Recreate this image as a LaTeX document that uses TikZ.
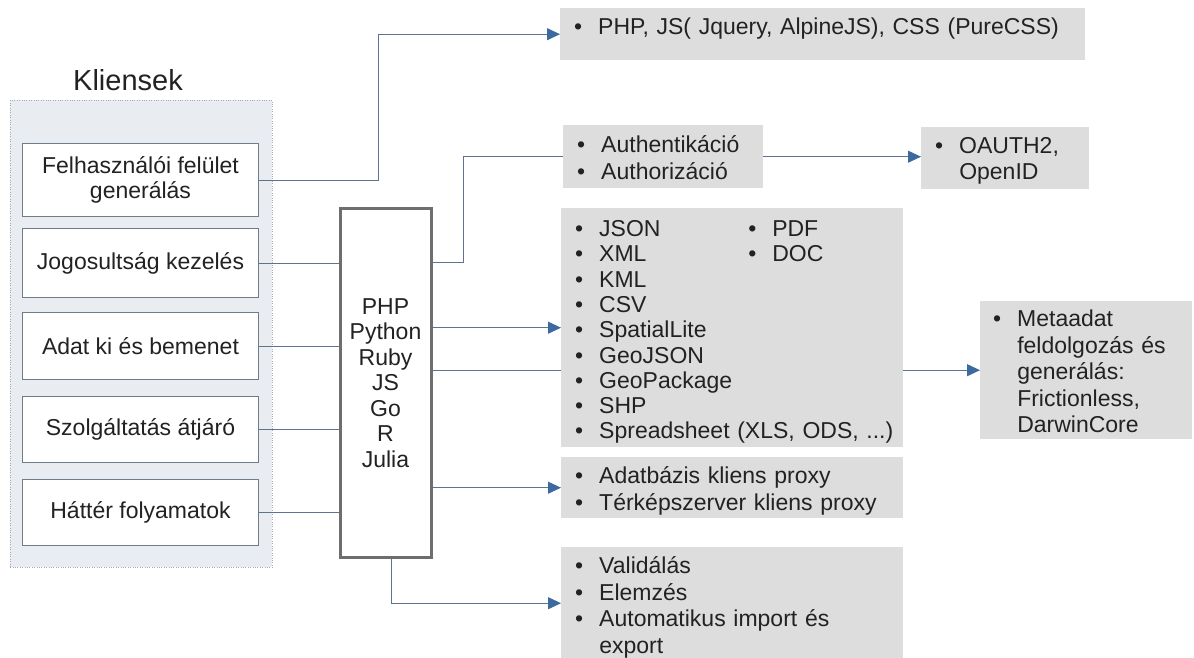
\documentclass[tikz,border=0pt]{standalone}
\usepackage{fontspec}
\setmainfont{Liberation Sans}
\usetikzlibrary{arrows.meta}
\definecolor{txt}{HTML}{222222}
\definecolor{contfill}{HTML}{E9EDF2}
\definecolor{contdraw}{HTML}{A3ACB6}
\definecolor{boxdraw}{HTML}{6F7C8A}
\definecolor{langdraw}{HTML}{6E6E6E}
\definecolor{graybox}{HTML}{DDDDDD}
\definecolor{conncol}{HTML}{5E7391}
\definecolor{tipcol}{HTML}{3D6A9E}
\tikzset{
  client/.style={draw=boxdraw, line width=1pt, fill=white, anchor=north west,
    minimum width=236pt, minimum height=#1, align=center, inner sep=0pt,
    font=\fontsize{23}{25.5}\selectfont, text=txt},
  gbox/.style={fill=graybox, anchor=north west, inner xsep=14pt, inner ysep=0pt, align=left,
    font=\fontsize{23}{26.5}\selectfont, text=txt},
  conn/.style={draw=conncol, line width=1pt},
  arr/.style={conn, -{Triangle[length=13pt,width=12pt,fill=tipcol,color=tipcol]}},
}
\newcommand{\bl}{\textbullet}
\newcommand{\blist}[2][-4pt]{\raisebox{#1}[\height][\depth]{\begin{tabular}{@{}l@{\hspace{16pt}}l@{}}#2\end{tabular}}}
\begin{document}
\begin{tikzpicture}[x=1pt,y=-1pt]
\useasboundingbox (0,0) rectangle (1194,658);
% clients container
\node[draw=contdraw, dotted, fill=contfill, anchor=north west, minimum width=262pt, minimum height=467pt, inner sep=0pt] (cont) at (10,100) {};
\node[font=\fontsize{29}{32}\selectfont, text=txt] (title) at (128,80) {Kliensek};
\node[client=73pt] (b1) at (22,143) {Felhasználói felület\\generálás};
\node[client=69pt] (b2) at (22,228) {Jogosultság kezelés};
\node[client=67pt] (b3) at (22,312) {Adat ki és bemenet};
\node[client=66pt] (b4) at (22,396) {Szolgáltatás átjáró};
\node[client=66pt] (b5) at (22,479) {Háttér folyamatok};
% language box
\node[draw=langdraw, line width=3pt, fill=white, anchor=north west, minimum width=91pt, minimum height=349pt, inner sep=0pt, align=center, font=\fontsize{23}{25.5}\selectfont, text=txt] (lang) at (338.5,207) {PHP\\Python\\Ruby\\JS\\Go\\R\\Julia};
% right boxes
\node[gbox, text width=497pt, minimum height=52pt] (web) at (560,8)
  {\blist[5pt]{\bl & PHP, JS( Jquery, AlpineJS), CSS (PureCSS)}};
\node[gbox, text width=172pt, minimum height=63pt] (auth) at (563,125)
  {\blist{\bl & Authentikáció\\ \bl & Authorizáció}};
\node[gbox, text width=140pt, minimum height=62pt] (oauth) at (921,127)
  {\blist[-3pt]{\bl & OAUTH2,\\ & OpenID}};
\node[gbox, text width=314pt, minimum height=239pt, font=\fontsize{23}{25.3}\selectfont] (fmt) at (561,208)
  {\raisebox{-5pt}[\height][\depth]{\begin{tabular}{@{}l@{\hspace{16pt}}p{149pt}@{}l@{\hspace{16pt}}l@{}}
  \bl & JSON & \bl & PDF\\
  \bl & XML & \bl & DOC\\
  \bl & KML & & \\
  \bl & CSV & & \\
  \bl & SpatialLite & & \\
  \bl & GeoJSON & & \\
  \bl & GeoPackage & & \\
  \bl & SHP & & \\
  \bl & \multicolumn{3}{@{}l@{}}{Spreadsheet (XLS, ODS, ...)}
  \end{tabular}}};
\node[gbox, text width=186pt, minimum height=138pt, inner xsep=13pt] (meta) at (980,301)
  {\blist{\bl & Metaadat\\ & feldolgozás és\\ & generálás:\\ & Frictionless,\\ & DarwinCore}};
\node[gbox, text width=314pt, minimum height=61pt] (proxy) at (561,457)
  {\blist{\bl & Adatbázis kliens proxy\\ \bl & Térképszerver kliens proxy}};
\node[gbox, text width=314pt, minimum height=112pt] (valid) at (561,547)
  {\blist[-5pt]{\bl & Validálás\\ \bl & Elemzés\\ \bl & Automatikus import és\\ & export}};
% connectors
\coordinate (c1) at (378,180);
\coordinate (c2) at (463,262);
\draw[arr] (b1.east) -- (c1) |- (web.west);
\draw[conn] (b2.east) -- (b2.east -| lang.west);
\draw[conn] (b3.east) -- (b3.east -| lang.west);
\draw[conn] (b4.east) -- (b4.east -| lang.west);
\draw[conn] (b5.east) -- (b5.east -| lang.west);
\draw[conn] (lang.east |- c2) -- (c2) |- (auth.west);
\draw[arr] (auth.east) -- (auth.east -| oauth.west);
\draw[arr] (lang.east |- fmt.west) -- (fmt.west);
\draw[conn] (lang.east |- meta.west) -- (fmt.west |- meta.west);
\draw[arr] (fmt.east |- meta.west) -- (meta.west);
\draw[arr] (lang.east |- proxy.west) -- (proxy.west);
\draw[arr] ([xshift=5.5pt]lang.south) |- (valid.west);
\end{tikzpicture}
\end{document}
